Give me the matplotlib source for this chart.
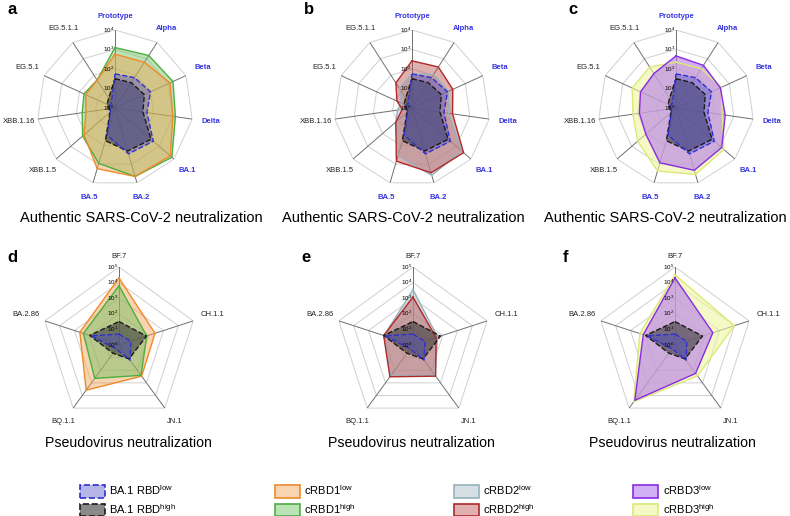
import numpy as np
import matplotlib.pyplot as plt
from matplotlib.patches import Patch
from matplotlib.colors import to_rgb

plt.rcParams['font.family'] = ['Liberation Sans', 'DejaVu Sans']
plt.rcParams['mathtext.fontset'] = 'custom'
plt.rcParams['mathtext.rm'] = 'Liberation Sans'
plt.rcParams['mathtext.it'] = 'Liberation Sans:italic'
plt.rcParams['mathtext.bf'] = 'Liberation Sans:bold'

# authentic virus panels (a-c)
auth_labels = ['Prototype', 'Alpha', 'Beta', 'Delta', 'BA.1', 'BA.2', 'BA.5',
               'XBB.1.5', 'XBB.1.16', 'EG.5.1', 'EG.5.1.1']
auth_ba1_low = [56, 71, 100, 45, 398, 282, 28, 2, 1.8, 2, 2.2]
auth_ba1_high = [32, 35, 45, 28, 282, 200, 56, 2.2, 2, 2.8, 4]
auth_c1_low = [575, 617, 1259, 1000, 5623, 4571, 1738, 126, 32, 45, 50]
auth_c1_high = [1259, 1585, 1862, 1349, 7244, 4571, 912, 158, 50, 56, 50]
auth_c2_low = [56, 112, 112, 79, 2344, 3981, 355, 12.6, 5.6, 4, 16]
auth_c2_high = [263, 316, 200, 126, 3162, 2884, 692, 12.6, 3.2, 7, 34]
auth_c3_low = [468, 398, 316, 355, 1259, 2138, 851, 112, 79, 100, 126]
auth_c3_high = [224, 251, 355, 251, 1778, 3548, 2344, 398, 170, 295, 316]

# pseudovirus panels (d-f)
pseudo_labels = ['BF.7', 'CH.1.1', 'JN.1', 'BQ.1.1', 'BA.2.86']
pseudo_ba1_low = [5, 6.3, 16, 2, 79]
pseudo_ba1_high = [32, 71, 12.6, 4.5, 95]
pseudo_c1_low = [19953, 269, 295, 3802, 437]
pseudo_c1_high = [6310, 74, 251, 447, 251]
pseudo_c2_low = [3548, 45, 251, 282, 89]
pseudo_c2_high = [1175, 36, 295, 331, 95]
pseudo_c3_low = [19953, 355, 178, 23988, 138]
pseudo_c3_high = [31623, 10000, 282, 31623, 234]

# (face, edge, linestyle, alpha)
sty = {
    'ba1_low': ('#5050c8', '#2f2fcf', '--', 0.42),
    'ba1_high': ('#3c3c3c', '#1a1a1a', '--', 0.6),
    'c1_low': ('#f0a050', '#ef8a2a', '-', 0.45),
    'c1_high': ('#6cc060', '#4caf40', '-', 0.45),
    'c2_low': ('#b9cbd2', '#98b2bd', '-', 0.6),
    'c2_high': ('#b85050', '#b02828', '-', 0.45),
    'c3_low': ('#b070f0', '#8a2be2', '-', 0.55),
    'c3_high': ('#eef5a0', '#dde87a', '-', 0.6),
}


def radar(ax, labels, series, rmax, lab_base, lab_extra, blue_n):
    n = len(labels)
    ang = np.linspace(0, 2 * np.pi, n, endpoint=False)
    angc = np.append(ang, ang[0])
    ax.set_theta_zero_location('N')
    ax.set_theta_direction(-1)
    ax.set_ylim(0, rmax)
    ax.set_xticks([])
    ax.set_yticks([])
    ax.grid(False)
    ax.spines['polar'].set_visible(False)
    ax.patch.set_alpha(0)
    for lev in range(1, rmax + 1):
        ax.plot(angc, [lev] * (n + 1), color='#d0d0d0', lw=0.7, zorder=1)
    for a in ang:
        ax.plot([a, a], [0, rmax], color='#707070', lw=0.7, zorder=1)
    for vals, key in series:
        fc, ec, ls, al = sty[key]
        r = np.log10(vals)
        rc = np.append(r, r[0])
        ax.fill(angc, rc, color=fc, alpha=al, lw=0, zorder=2)
        ax.plot(angc, rc, color=ec, lw=1.0, ls=ls, zorder=3)
    for k in range(rmax + 1):
        ax.annotate(f'$10^{{{k}}}$', xy=(0, k), xytext=(-0.5, 0),
                    textcoords='offset points', ha='right', va='center',
                    fontsize=4.5, zorder=5)
    for i, (a, lab) in enumerate(zip(ang, labels)):
        lr = lab_base + lab_extra * abs(np.sin(a))
        if i < blue_n:
            ax.text(a, lr, lab, ha='center', va='center', fontsize=5.5,
                    color='#3535e0', fontweight='bold')
        else:
            ax.text(a, lr, lab, ha='center', va='center', fontsize=5.5,
                    color='#222222')


W, H = 790, 516
fig = plt.figure(figsize=(W / 100, H / 100), dpi=100)


def polar_at(cx, cy, rad=78):
    return fig.add_axes([(cx - rad) / W, 1 - (cy + rad) / H, 2 * rad / W, 2 * rad / H],
                        projection='polar')


top = [
    (115, [(auth_c1_high, 'c1_high'), (auth_c1_low, 'c1_low')], 'a', 141),
    (412, [(auth_c2_low, 'c2_low'), (auth_c2_high, 'c2_high')], 'b', 403),
    (676, [(auth_c3_high, 'c3_high'), (auth_c3_low, 'c3_low')], 'c', 665),
]
for cx, ser, letter, tx in top:
    ax = polar_at(cx, 108)
    radar(ax, auth_labels,
          ser + [(auth_ba1_high, 'ba1_high'), (auth_ba1_low, 'ba1_low')],
          4, 4.68, 0.3, 7)
    fig.text((cx - 108) / W, 1 - 10 / H, letter, fontsize=12, fontweight='bold',
             ha='left', va='center')
    fig.text(tx / W, 1 - 218 / H, 'Authentic SARS-CoV-2 neutralization',
             fontsize=10.5, ha='center', va='center')

bottom = [
    (119, [(pseudo_c1_low, 'c1_low'), (pseudo_c1_high, 'c1_high')], 'd', 128),
    (413, [(pseudo_c2_low, 'c2_low'), (pseudo_c2_high, 'c2_high')], 'e', 411),
    (675, [(pseudo_c3_high, 'c3_high'), (pseudo_c3_low, 'c3_low')], 'f', 672),
]
for cx, ser, letter, tx in bottom:
    ax = polar_at(cx, 345)
    radar(ax, pseudo_labels,
          ser + [(pseudo_ba1_high, 'ba1_high'), (pseudo_ba1_low, 'ba1_low')],
          5, 5.7, 0.6, 0)
    fig.text((cx - 112) / W, 1 - 258 / H, letter, fontsize=12, fontweight='bold',
             ha='left', va='center')
    fig.text(tx / W, 1 - 443 / H, 'Pseudovirus neutralization',
             fontsize=10.2, ha='center', va='center')

leg_names = ['BA.1 RBD$^{\\mathrm{low}}$', 'BA.1 RBD$^{\\mathrm{high}}$',
             'cRBD1$^{\\mathrm{low}}$', 'cRBD1$^{\\mathrm{high}}$',
             'cRBD2$^{\\mathrm{low}}$', 'cRBD2$^{\\mathrm{high}}$',
             'cRBD3$^{\\mathrm{low}}$', 'cRBD3$^{\\mathrm{high}}$']
leg_keys = ['ba1_low', 'ba1_high', 'c1_low', 'c1_high',
            'c2_low', 'c2_high', 'c3_low', 'c3_high']
handles = []
for name, key in zip(leg_names, leg_keys):
    fc, ec, ls, al = sty[key]
    handles.append(Patch(facecolor=(*to_rgb(fc), al), edgecolor=ec,
                         linestyle=ls, lw=1.2, label=name))
fig.legend(handles=handles, ncol=4, loc='center left',
           bbox_to_anchor=(80 / W, 1 - 500 / H),
           frameon=False, fontsize=8, handlelength=2.25, handleheight=1.4,
           handletextpad=0.4, columnspacing=8.85, labelspacing=0.35,
           borderpad=0, borderaxespad=0)

fig.savefig('out.png', dpi=100)
